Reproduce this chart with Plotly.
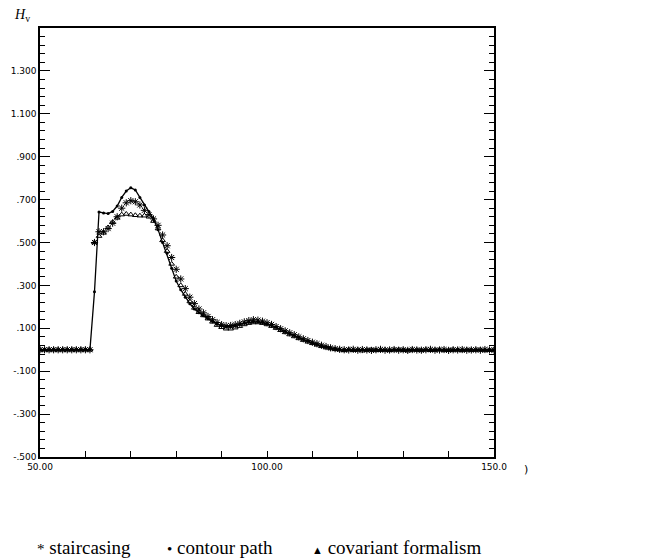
import plotly.graph_objects as go

# sample positions (x) and series values
x_vals = list(range(50, 151))

contour_path = (
    [0.0] * 12
    + [0.27, 0.642, 0.638, 0.635, 0.645, 0.67, 0.71, 0.74, 0.755, 0.745,
       0.71, 0.675, 0.645, 0.61, 0.56, 0.50, 0.45, 0.38, 0.32, 0.28,
       0.245, 0.215, 0.19, 0.172, 0.158, 0.145, 0.132, 0.12, 0.112, 0.108,
       0.108, 0.112, 0.118, 0.124, 0.128, 0.13, 0.13, 0.127, 0.121]
    + [0.113, 0.105, 0.095, 0.085, 0.075, 0.066, 0.057, 0.048, 0.040, 0.032,
       0.025, 0.018, 0.012, 0.007, 0.003]
    + [0.001, -0.002, 0.000, -0.003, -0.001, 0.000, -0.002, -0.004, -0.001, 0.000,
       -0.002, -0.003, 0.000, -0.001, -0.002, 0.000, -0.003, -0.002, 0.000, -0.001,
       -0.003, -0.002, 0.000, -0.001, -0.002, -0.003, 0.000, -0.002, -0.001, 0.000,
       -0.002, -0.003, -0.001, 0.000, -0.002]
)

staircasing = (
    [0.0] * 12
    + [0.50, 0.55, 0.55, 0.565, 0.59, 0.62, 0.66, 0.685, 0.695, 0.69,
       0.675, 0.65, 0.63, 0.61, 0.58, 0.535, 0.485, 0.43, 0.375, 0.33,
       0.285, 0.245, 0.215, 0.19, 0.172, 0.155, 0.14, 0.127, 0.117, 0.112,
       0.113, 0.117, 0.123, 0.13, 0.136, 0.14, 0.138, 0.133, 0.126]
    + [0.118, 0.108, 0.098, 0.088, 0.079, 0.070, 0.060, 0.051, 0.043, 0.035,
       0.028, 0.021, 0.015, 0.009, 0.005]
    + [0.002, 0.000, -0.001, 0.002, -0.002, 0.001, -0.001, -0.003, 0.000, 0.002,
       -0.002, -0.001, 0.001, -0.002, 0.000, -0.003, 0.001, -0.001, -0.002, 0.000,
       0.002, -0.002, -0.001, 0.001, -0.003, 0.000, -0.001, 0.001, -0.002, -0.001,
       0.000, -0.002, 0.001, -0.001, -0.002]
)

covariant = (
    [0.0] * 12
    + [0.50, 0.53, 0.545, 0.57, 0.595, 0.615, 0.63, 0.633, 0.63, 0.627,
       0.625, 0.625, 0.62, 0.60, 0.565, 0.51, 0.46, 0.40, 0.34, 0.30,
       0.26, 0.225, 0.195, 0.175, 0.16, 0.145, 0.13, 0.115, 0.105, 0.098,
       0.098, 0.103, 0.11, 0.118, 0.124, 0.127, 0.127, 0.124, 0.118]
    + [0.110, 0.101, 0.091, 0.081, 0.071, 0.062, 0.053, 0.045, 0.037, 0.030,
       0.023, 0.016, 0.010, 0.006, 0.002]
    + [0.000, -0.003, 0.001, -0.002, 0.000, -0.004, -0.001, 0.001, -0.003, -0.002,
       0.000, -0.003, -0.001, 0.001, -0.002, -0.004, 0.000, -0.001, -0.003, 0.000,
       -0.002, -0.001, 0.001, -0.003, -0.002, 0.000, -0.001, -0.003, 0.000, -0.002,
       -0.001, 0.001, -0.003, -0.002, 0.000]
)

assert len(contour_path) == len(x_vals)
assert len(staircasing) == len(x_vals)
assert len(covariant) == len(x_vals)

y_tickvals = [1.3, 1.1, 0.9, 0.7, 0.5, 0.3, 0.1, -0.1, -0.3, -0.5]
y_ticktext = ["1.300", "1.100", ".900", ".700", ".500", ".300", ".100", "-.100", "-.300", "-.500"]
x_tickvals = [50, 60, 70, 80, 90, 100, 110, 120, 130, 140, 150]
x_ticktext = ["50.00", "", "", "", "", "100.00", "", "", "", "", "150.0"]

legend_symbols = ["*", "\u2022", "\u25b2"]
legend_labels = ["staircasing", "contour path", "covariant formalism"]

fig = go.Figure()
fig.add_trace(go.Scatter(
    x=x_vals, y=contour_path, mode="lines+markers", name="contour path",
    line=dict(color="black", width=1.3),
    marker=dict(symbol="circle", size=3, color="black"),
))
fig.add_trace(go.Scatter(
    x=x_vals, y=staircasing, mode="markers", name="staircasing",
    marker=dict(symbol="asterisk-open", size=6, color="black",
                line=dict(color="black", width=1)),
))
fig.add_trace(go.Scatter(
    x=x_vals, y=covariant, mode="markers", name="covariant formalism",
    marker=dict(symbol="triangle-up-open", size=5, color="black",
                line=dict(color="black", width=1)),
))

axis_font = dict(family="DejaVu Sans", size=9, color="black")

fig.update_layout(
    width=666, height=560,
    margin=dict(l=40, r=172, t=28, b=103),
    paper_bgcolor="white", plot_bgcolor="white",
    showlegend=False,
    xaxis=dict(
        range=[50, 150], showgrid=False, zeroline=False,
        showline=True, linecolor="black", linewidth=1.5, mirror=True,
        ticks="inside", ticklen=6, tickwidth=1, tickcolor="black",
        tickvals=x_tickvals, ticktext=x_ticktext, tickfont=axis_font,
    ),
    yaxis=dict(
        range=[-0.5, 1.5], showgrid=False, zeroline=False,
        showline=True, linecolor="black", linewidth=1.5, mirror="ticks",
        ticks="inside", ticklen=10, tickwidth=1, tickcolor="black",
        tickvals=y_tickvals, ticktext=y_ticktext, tickfont=axis_font,
        minor=dict(dtick=0.04, tick0=-0.5, ticks="inside", ticklen=5,
                   tickwidth=1, tickcolor="black"),
    ),
)

fig.add_annotation(
    text="<i>H</i><sub>v</sub>", xref="paper", yref="paper",
    x=-0.062, y=1.03, xanchor="left", yanchor="middle", showarrow=False,
    font=dict(family="Liberation Serif", size=14, color="black"),
)
fig.add_annotation(
    text=")", xref="paper", yref="paper",
    x=1.07, y=-0.01, xanchor="center", yanchor="top", showarrow=False,
    font=dict(family="DejaVu Sans", size=11, color="black"),
)

legend_x = [-0.011, 0.275, 0.595]
symbol_sizes = [15, 15, 11]
for sym, label, lx, ss in zip(legend_symbols, legend_labels, legend_x, symbol_sizes):
    fig.add_annotation(
        text="<span style='font-size:%dpx'>%s</span> %s" % (ss, sym, label),
        xref="paper", yref="paper",
        x=lx, y=-0.212, xanchor="left", yanchor="middle", showarrow=False,
        font=dict(family="Liberation Serif", size=19, color="black"),
    )

fig.write_html("out.html")
